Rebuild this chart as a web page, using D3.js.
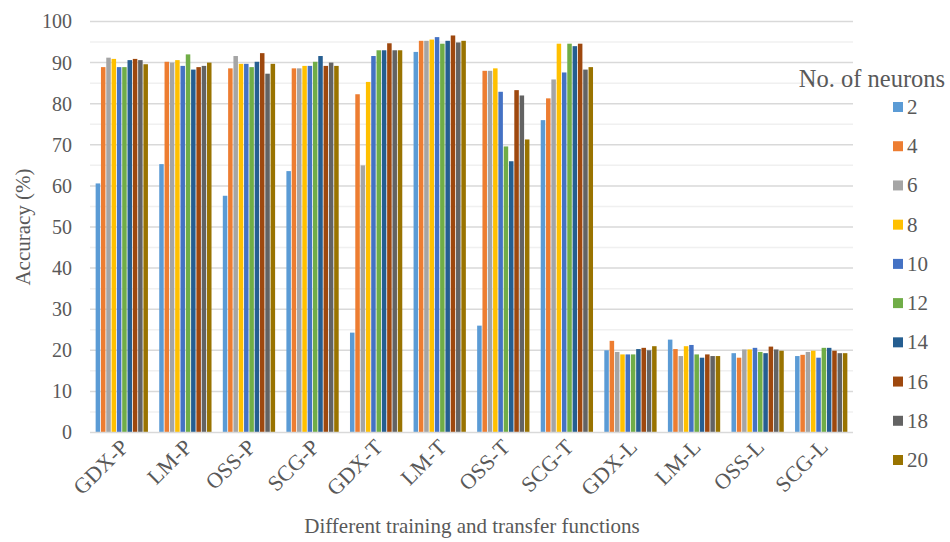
<!DOCTYPE html>
<html>
<head>
<meta charset="utf-8">
<script src="https://cdn.jsdelivr.net/npm/d3@7"></script>
<style>
  html, body { margin: 0; padding: 0; background: #fff; }
  svg { display: block; }
</style>
</head>
<body>
<svg id="chart" width="950" height="542"></svg>
<script>
const categories = ["GDX-P", "LM-P", "OSS-P", "SCG-P", "GDX-T", "LM-T", "OSS-T", "SCG-T", "GDX-L", "LM-L", "OSS-L", "SCG-L"];
const neurons = ["2", "4", "6", "8", "10", "12", "14", "16", "18", "20"];
const colors = ["#5B9BD5", "#ED7D31", "#A5A5A5", "#FFC000", "#4472C4", "#70AD47", "#255E91", "#9E480E", "#636363", "#997300"];
const yTicks = [0, 10, 20, 30, 40, 50, 60, 70, 80, 90, 100];
// accuracy per category, one value per neuron count
const acc_GDX_P = [60.6, 88.9, 91.2, 90.9, 88.9, 88.9, 90.6, 90.9, 90.6, 89.6];
const acc_LM_P  = [65.3, 90.2, 90.0, 90.6, 89.2, 92.0, 88.3, 88.9, 89.2, 90.0];
const acc_OSS_P = [57.6, 88.6, 91.6, 89.7, 89.7, 88.9, 90.2, 92.3, 87.3, 89.7];
const acc_SCG_P = [63.6, 88.6, 88.6, 89.2, 89.2, 90.2, 91.6, 89.2, 90.0, 89.2];
const acc_GDX_T = [24.3, 82.3, 65.0, 85.3, 91.6, 93.0, 93.0, 94.7, 93.0, 93.0];
const acc_LM_T  = [92.6, 95.3, 95.3, 95.6, 96.2, 94.6, 95.3, 96.6, 94.9, 95.3];
const acc_OSS_T = [26.0, 88.0, 88.0, 88.6, 82.9, 69.6, 66.0, 83.3, 82.0, 71.3];
const acc_SCG_T = [76.0, 81.3, 85.9, 94.6, 87.6, 94.6, 94.0, 94.6, 88.3, 88.9];
const acc_GDX_L = [20.0, 22.3, 19.6, 19.0, 19.0, 19.0, 20.3, 20.6, 20.0, 21.0];
const acc_LM_L  = [22.6, 20.3, 18.6, 21.0, 21.3, 19.0, 18.2, 19.0, 18.6, 18.6];
const acc_OSS_L = [19.3, 18.2, 20.2, 20.2, 20.6, 19.6, 19.3, 20.9, 20.2, 19.9];
const acc_SCG_L = [18.6, 18.9, 19.6, 19.9, 18.2, 20.6, 20.6, 19.9, 19.3, 19.3];
const values = [acc_GDX_P, acc_LM_P, acc_OSS_P, acc_SCG_P, acc_GDX_T, acc_LM_T, acc_OSS_T, acc_SCG_T, acc_GDX_L, acc_LM_L, acc_OSS_L, acc_SCG_L];

const FONT = "'Liberation Serif', 'Times New Roman', serif";
const TXT = "#595959";

const svg = d3.select("#chart");
const plot = { left: 90, right: 853, top: 21.5, bottom: 432.5 };

const y = d3.scaleLinear().domain([0, 100]).range([plot.bottom, plot.top]);
const x0 = d3.scaleBand().domain(categories).range([plot.left, plot.right]).paddingInner(0.165).paddingOuter(0.0825);
const x1 = d3.scaleBand().domain(neurons).range([0, x0.bandwidth()]).padding(0);

// minor gridlines
const minor = d3.range(5, 100, 10);
svg.append("g").selectAll("line").data(minor).join("line")
  .attr("x1", plot.left).attr("x2", plot.right)
  .attr("y1", d => y(d)).attr("y2", d => y(d))
  .attr("stroke", "#f0f0f0").attr("stroke-width", 1.5);
// major gridlines
svg.append("g").selectAll("line").data(yTicks.filter(d => d > 0)).join("line")
  .attr("x1", plot.left).attr("x2", plot.right)
  .attr("y1", d => y(d)).attr("y2", d => y(d))
  .attr("stroke", "#d9d9d9").attr("stroke-width", 1.5);

// bars
const groups = svg.append("g").selectAll("g").data(categories).join("g")
  .attr("transform", d => `translate(${x0(d)},0)`);
groups.selectAll("rect").data((c, i) => values[i].map((v, j) => ({ v, j })))
  .join("rect")
  .attr("x", d => x1(neurons[d.j]) + 0.4)
  .attr("width", x1.bandwidth() - 0.8)
  .attr("y", d => y(d.v))
  .attr("height", d => y(0) - y(d.v))
  .attr("fill", d => colors[d.j]);

// x axis line
svg.append("line")
  .attr("x1", plot.left).attr("x2", plot.right)
  .attr("y1", y(0)).attr("y2", y(0))
  .attr("stroke", "#d9d9d9").attr("stroke-width", 1.5);

// y axis labels
const yAxis = d3.axisLeft(y).tickValues(yTicks).tickSize(0).tickPadding(18);
const yg = svg.append("g").attr("transform", `translate(${plot.left},0)`).call(yAxis);
yg.attr("font-family", null).attr("font-size", null);
yg.select(".domain").remove();
yg.selectAll("text").style("font-size", "20px").style("font-family", FONT).style("fill", TXT);

// x axis labels (rotated)
const xAxis = d3.axisBottom(x0).tickSize(0).tickPadding(0);
const xg = svg.append("g").attr("transform", `translate(0,${plot.bottom})`).call(xAxis);
xg.attr("font-family", null).attr("font-size", null);
xg.select(".domain").remove();
xg.selectAll("text")
  .style("font-size", "22px").style("font-family", FONT).style("fill", TXT)
  .attr("text-anchor", "end")
  .attr("dy", "0")
  .attr("transform", "translate(8,16) rotate(-45)");

// axis titles
svg.append("text")
  .attr("transform", `translate(30,${(plot.top + plot.bottom) / 2}) rotate(-90)`)
  .attr("text-anchor", "middle")
  .style("font-size", "21px").style("font-family", FONT).style("fill", TXT)
  .text("Accuracy (%)");

svg.append("text")
  .attr("x", 472).attr("y", 533)
  .attr("text-anchor", "middle")
  .style("font-size", "21px").style("font-family", FONT).style("fill", TXT)
  .text("Different training and transfer functions");

// legend
const legend = svg.append("g");
legend.append("text").attr("x", 872).attr("y", 87).attr("text-anchor", "middle")
  .style("font-size", "24.5px").style("font-family", FONT).style("fill", TXT)
  .text("No. of neurons");
const ly = d3.scalePoint().domain(neurons).range([107, 460]);
const items = legend.selectAll("g.item").data(neurons).join("g").attr("class", "item")
  .attr("transform", d => `translate(893,${ly(d)})`);
items.append("rect").attr("x", 0).attr("y", -5).attr("width", 10).attr("height", 10)
  .attr("fill", (d, i) => colors[i]);
items.append("text").attr("x", 14).attr("y", 7)
  .style("font-size", "21px").style("font-family", FONT).style("fill", TXT)
  .text(d => d);
</script>
</body>
</html>
